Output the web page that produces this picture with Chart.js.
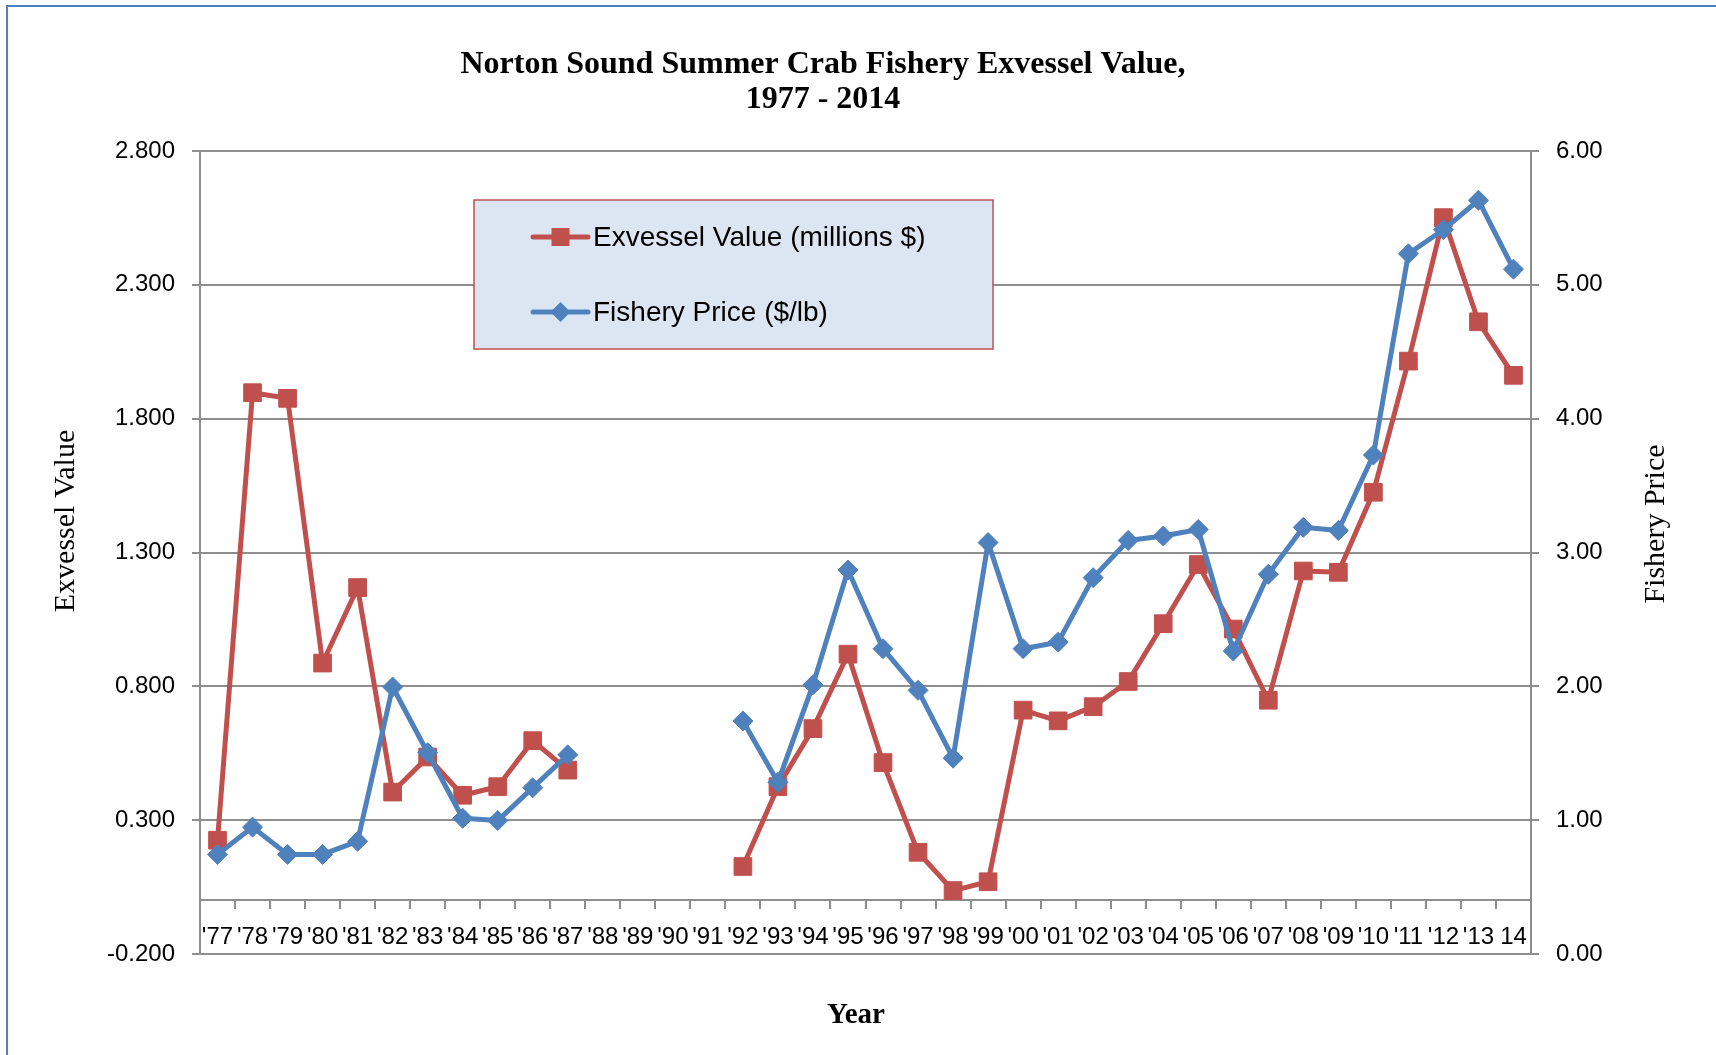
<!DOCTYPE html>
<html>
<head>
<meta charset="utf-8">
<title>Norton Sound Summer Crab Fishery Exvessel Value</title>
<script src="https://cdn.jsdelivr.net/npm/chart.js@4.4.1/dist/chart.umd.min.js"></script>
<style>
  html, body { margin: 0; padding: 0; background: #fff; }
  canvas { display: block; }
</style>
</head>
<body>
<canvas id="grafica" width="1716" height="1055"></canvas>
<script>
// Categories ('88 - '91: no fishery)
const years = ["'77", "'78", "'79", "'80", "'81", "'82", "'83", "'84", "'85", "'86",
  "'87", "'88", "'89", "'90", "'91", "'92", "'93", "'94", "'95", "'96",
  "'97", "'98", "'99", "'00", "'01", "'02", "'03", "'04", "'05", "'06",
  "'07", "'08", "'09", "'10", "'11", "'12", "'13", "14"];

// Exvessel value, millions $ (left axis)
const exvesselValue = [0.225, 1.897, 1.876, 0.887, 1.169, 0.405, 0.536, 0.393, 0.425, 0.597,
  0.487, null, null, null, null, 0.127, 0.425, 0.642, 0.920, 0.515,
  0.180, 0.037, 0.070, 0.711, 0.671, 0.724, 0.818, 1.034, 1.255, 1.014,
  0.748, 1.231, 1.226, 1.525, 2.015, 2.551, 2.162, 1.962];

// Fishery price, $/lb (right axis)
const fisheryPrice = [0.744, 0.948, 0.744, 0.744, 0.842, 1.995, 1.504, 1.014, 0.997, 1.243,
  1.488, null, null, null, null, 1.741, 1.283, 2.011, 2.869, 2.281,
  1.970, 1.463, 3.074, 2.281, 2.330, 2.812, 3.090, 3.123, 3.172, 2.264,
  2.837, 3.188, 3.164, 3.728, 5.232, 5.412, 5.632, 5.117];

// Tick values of both axes
const valueTicks = [-0.2, 0.3, 0.8, 1.3, 1.8, 2.3, 2.8];
const priceTicks = [0, 1, 2, 3, 4, 5, 6];

const rojo = '#C0504D';
const azul = '#4F81BD';
const gris = '#8E8E8E';
const fuenteSans = '"Liberation Sans", Arial, sans-serif';
const fuenteSerif = '"Liberation Serif", "Times New Roman", serif';

// Textos de ejes, marco exterior y leyenda
const decoracion = {
  id: 'decoracion',
  afterDraw(chart) {
    const ctx = chart.ctx;
    ctx.save();

    // marco azul
    ctx.strokeStyle = azul;
    ctx.lineWidth = 2;
    ctx.beginPath();
    ctx.moveTo(7, 1055);
    ctx.lineTo(7, 6);
    ctx.lineTo(1716, 6);
    ctx.stroke();

    // titulos de ejes
    ctx.fillStyle = '#000';
    ctx.textAlign = 'center';
    ctx.textBaseline = 'middle';
    ctx.font = '30px ' + fuenteSerif;
    [['Exvessel Value', 66, 521], ['Fishery Price', 1656, 524]].forEach(([txt, x, y]) => {
      ctx.save();
      ctx.translate(x, y);
      ctx.rotate(-Math.PI / 2);
      ctx.fillText(txt, 0, 0);
      ctx.restore();
    });
    ctx.font = 'bold 29px ' + fuenteSerif;
    ctx.fillText('Year', 856, 1016);

    // leyenda
    ctx.fillStyle = '#DCE6F2';
    ctx.fillRect(474, 200, 519, 149);
    ctx.strokeStyle = '#C0504D';
    ctx.lineWidth = 1.5;
    ctx.strokeRect(474, 200, 519, 149);

    chart.data.datasets.forEach((ds, i) => {
      const y = 237 + i * 75;
      ctx.strokeStyle = ds.borderColor;
      ctx.lineWidth = 5;
      ctx.lineCap = 'round';
      ctx.beginPath();
      ctx.moveTo(533, y);
      ctx.lineTo(588, y);
      ctx.stroke();
      ctx.fillStyle = ds.backgroundColor;
      ctx.beginPath();
      if (ds.pointStyle === 'rect') {
        ctx.rect(551.5, y - 9, 18, 18);
      } else {
        ctx.moveTo(560.5, y - 10);
        ctx.lineTo(570.5, y);
        ctx.lineTo(560.5, y + 10);
        ctx.lineTo(550.5, y);
        ctx.closePath();
      }
      ctx.fill();
      ctx.fillStyle = '#000';
      ctx.textAlign = 'left';
      ctx.font = '28px ' + fuenteSans;
      ctx.fillText(ds.label, 593, y + 1);
    });

    ctx.restore();
  }
};

const ctx = document.getElementById('grafica').getContext('2d');

const grafica = new Chart(ctx, {
  type: 'line',
  data: {
    labels: years,
    datasets: [{
      label: 'Exvessel Value (millions $)',
      data: exvesselValue,
      yAxisID: 'y',
      order: 2,
      borderColor: rojo,
      backgroundColor: rojo,
      borderWidth: 5,
      pointStyle: 'rect',
      pointRadius: 12.5,
      pointBorderWidth: 1,
      pointBorderColor: rojo,
      pointBackgroundColor: rojo,
      borderJoinStyle: 'round',
      spanGaps: false,
      tension: 0
    }, {
      label: 'Fishery Price ($/lb)',
      data: fisheryPrice,
      yAxisID: 'y2',
      order: 1,
      borderColor: azul,
      backgroundColor: azul,
      borderWidth: 5,
      pointStyle: 'rectRot',
      pointRadius: 10,
      pointBorderWidth: 1,
      pointBorderColor: azul,
      pointBackgroundColor: azul,
      borderJoinStyle: 'round',
      spanGaps: false,
      tension: 0
    }]
  },
  options: {
    responsive: false,
    devicePixelRatio: 1,
    animation: false,
    layout: {
      padding: { left: 0, right: 70, top: 0, bottom: 101 }
    },
    plugins: {
      legend: { display: false },
      tooltip: { enabled: false },
      title: {
        display: true,
        text: ['Norton Sound Summer Crab Fishery Exvessel Value,', '1977 - 2014'],
        color: '#000',
        font: { family: fuenteSerif, size: 32, weight: 'bold', lineHeight: 35 / 32 },
        padding: { top: 47.5, bottom: 33.5 }
      }
    },
    scales: {
      x: {
        type: 'category',
        offset: true,
        position: { y: 0 },
        grid: {
          drawOnChartArea: false,
          drawTicks: true,
          tickLength: 8,
          offset: true,
          color: gris,
          lineWidth: 2
        },
        border: { display: true, color: gris, width: 2 },
        ticks: {
          autoSkip: false,
          maxRotation: 0,
          minRotation: 0,
          padding: 15,
          color: '#000',
          font: { family: fuenteSans, size: 24 }
        }
      },
      y: {
        position: 'left',
        min: -0.2,
        max: 2.8,
        afterBuildTicks: s => { s.ticks = valueTicks.map(v => ({ value: v })); },
        afterFit: s => { s.width = 200; },
        grid: { color: gris, lineWidth: 2, tickLength: 8, drawTicks: true },
        border: { color: gris, width: 2 },
        ticks: {
          padding: 17,
          color: '#000',
          font: { family: fuenteSans, size: 24 },
          callback: v => Number(v).toFixed(3)
        }
      },
      y2: {
        position: 'right',
        min: 0,
        max: 6,
        afterBuildTicks: s => { s.ticks = priceTicks.map(v => ({ value: v })); },
        afterFit: s => { s.width = 115; },
        grid: { drawOnChartArea: false, color: gris, lineWidth: 2, tickLength: 8, drawTicks: true },
        border: { color: gris, width: 2 },
        ticks: {
          padding: 17,
          color: '#000',
          font: { family: fuenteSans, size: 24 },
          callback: v => Number(v).toFixed(2)
        }
      }
    }
  },
  plugins: [decoracion]
});
</script>
</body>
</html>
